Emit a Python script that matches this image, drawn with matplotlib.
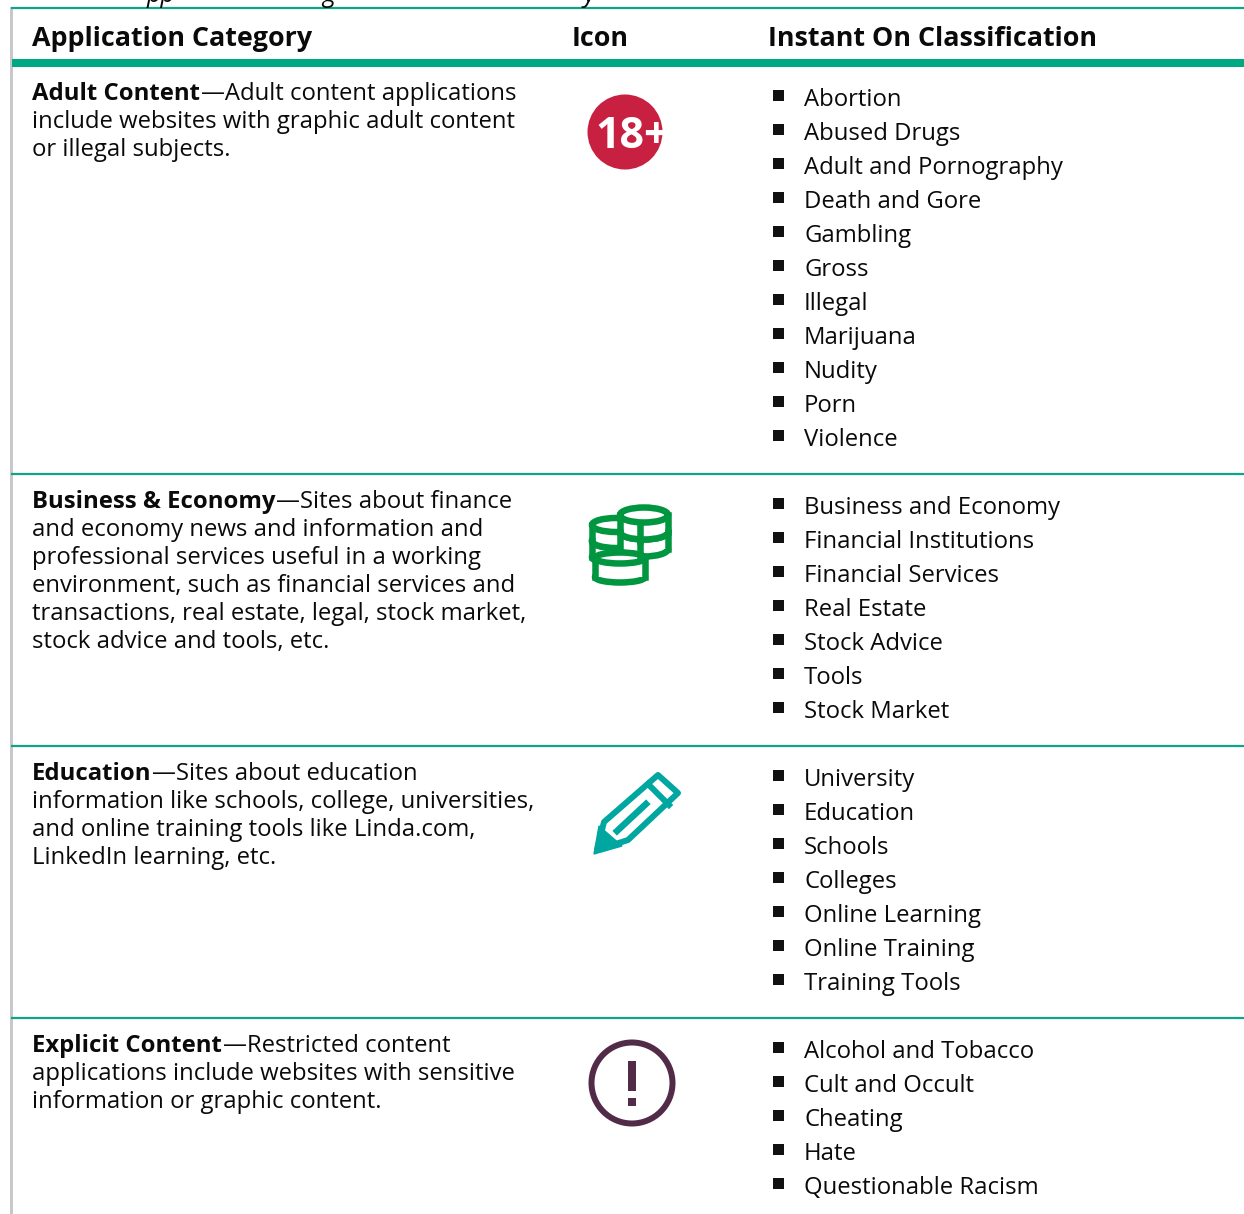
#!/usr/bin/env python3
import matplotlib
matplotlib.use('Agg')
import matplotlib.pyplot as plt
from matplotlib.patches import Circle, Ellipse, Polygon, Rectangle

# table content
headers = ['Application Category', 'Icon', 'Instant On Classification']
category_names = ['Adult Content', 'Business & Economy', 'Education', 'Explicit Content']
category_text = [
    ['—Adult content applications', 'include websites with graphic adult content', 'or illegal subjects.'],
    ['—Sites about finance', 'and economy news and information and', 'professional services useful in a working',
     'environment, such as financial services and', 'transactions, real estate, legal, stock market,',
     'stock advice and tools, etc.'],
    ['—Sites about education', 'information like schools, college, universities,',
     'and online training tools like Linda.com,', 'LinkedIn learning, etc.'],
    ['—Restricted content', 'applications include websites with sensitive', 'information or graphic content.'],
]
classifications = [
    ['Abortion', 'Abused Drugs', 'Adult and Pornography', 'Death and Gore', 'Gambling', 'Gross',
     'Illegal', 'Marijuana', 'Nudity', 'Porn', 'Violence'],
    ['Business and Economy', 'Financial Institutions', 'Financial Services', 'Real Estate',
     'Stock Advice', 'Tools', 'Stock Market'],
    ['University', 'Education', 'Schools', 'Colleges', 'Online Learning', 'Online Training', 'Training Tools'],
    ['Alcohol and Tobacco', 'Cult and Occult', 'Cheating', 'Hate', 'Questionable Racism'],
]
row_tops = [66, 474, 746, 1018]

W, H = 1244, 1214
PX = 0.72  # pixels to points at dpi 100
FONT = 'Open Sans'
GREEN = '#01A982'
RULE = '#0FA587'
TXT = '#0A0A0A'
BODY = 23.9 * PX

fig = plt.figure(figsize=(W / 100, H / 100), dpi=100)
ax = fig.add_axes([0, 0, 1, 1])
ax.set_xlim(0, W)
ax.set_ylim(H, 0)
ax.axis('off')

# descenders of the caption cut off by the page crop
clip = Rectangle((0, 0), W, 7, transform=ax.transData)
for x, s in [(147, 'pp'), (322, 'g'), (583, 'y')]:
    t = ax.text(x, 2, s, fontsize=25 * PX, family=FONT, style='italic', color=TXT, va='baseline')
    t.set_clip_path(clip)

# frame and rules
ax.add_patch(Rectangle((10, 7), 2.5, H - 7, color='#C8C8C8', lw=0))
ax.plot([11, W], [8, 8], color=RULE, lw=2.2 * PX, solid_capstyle='butt')
ax.add_patch(Rectangle((12, 59), W - 12, 8, color=GREEN, lw=0))
for y in row_tops[1:]:
    ax.plot([11, W], [y, y], color=RULE, lw=2.2 * PX, solid_capstyle='butt')

# header
for x, s in zip([32, 572, 768], headers):
    ax.text(x, 36, s, fontsize=26.9 * PX, family=FONT, weight='bold', color=TXT, va='center_baseline')

fig.canvas.draw()
rend = fig.canvas.get_renderer()

# rows
for top, name, lines, items in zip(row_tops, category_names, category_text, classifications):
    y0 = top + 34
    b = ax.text(32, y0, name, fontsize=BODY, family=FONT, weight='bold', color=TXT, va='baseline')
    w = b.get_window_extent(rend).width + 1
    for i, line in enumerate(lines):
        x = 32 + w if i == 0 else 32
        ax.text(x, y0 + 28 * i, line, fontsize=BODY, family=FONT, color=TXT, va='baseline')
    for i, item in enumerate(items):
        yy = top + 40 + 34 * i
        ax.add_patch(Rectangle((773, yy - 16), 10.5, 10.5, color='#111111', lw=0))
        ax.text(804, yy, item, fontsize=BODY, family=FONT, color=TXT, va='baseline')

# 18+ icon
RED = '#C82041'
disc = Circle((625, 132), 37.5, color=RED, lw=0)
ax.add_patch(disc)
t = ax.text(595, 148, '18+', fontsize=43 * PX, family=FONT, weight='bold', color='white', va='baseline')
t.set_clip_path(disc)

# coins icon
COIN = '#00953F'
def coin_stack(x0, x1, yc, ry, layer_h, layers):
    lw = 6.5 * PX
    xm = (x0 + x1) / 2
    for k in range(layers - 1, -1, -1):
        yb = yc + layer_h * (k + 1)
        ax.add_patch(Ellipse((xm, yb), x1 - x0, 2 * ry, fc='white', ec=COIN, lw=lw))
        ax.add_patch(Rectangle((x0, yb - layer_h), x1 - x0, layer_h, fc='white', ec='none'))
        ax.plot([x0, x0], [yb - layer_h, yb], color=COIN, lw=lw)
        ax.plot([x1, x1], [yb - layer_h, yb], color=COIN, lw=lw)
        ax.add_patch(Ellipse((xm, yb - layer_h), x1 - x0, 2 * ry, fc='white', ec=COIN, lw=lw))

coin_stack(592, 640, 525, 7, 16, 2)
coin_stack(620, 668, 515, 7.5, 17, 2)
coin_stack(595, 645, 558, 5.5, 19, 1)

# pencil icon
TEAL = '#00A6A0'
ax.add_patch(Polygon([(597, 850), (604, 822), (658, 775), (678, 793), (628, 840)],
                     closed=True, fc='white', ec=TEAL, lw=6 * PX, joinstyle='round'))
ax.add_patch(Polygon([(594, 854), (599, 826), (622, 846)], closed=True, fc=TEAL, ec=TEAL, lw=1))
ax.plot([648, 669], [784, 805], color=TEAL, lw=6 * PX)
ax.plot([617, 646], [831, 804], color=TEAL, lw=6.5 * PX)

# exclamation icon
PLUM = '#522B48'
ax.add_patch(Circle((632, 1083), 40.5, fc='none', ec=PLUM, lw=6 * PX))
ax.add_patch(Rectangle((628, 1061), 8, 30, color=PLUM, lw=0))
ax.add_patch(Rectangle((628, 1098), 8, 8, color=PLUM, lw=0))

fig.savefig('out.png', dpi=100)
